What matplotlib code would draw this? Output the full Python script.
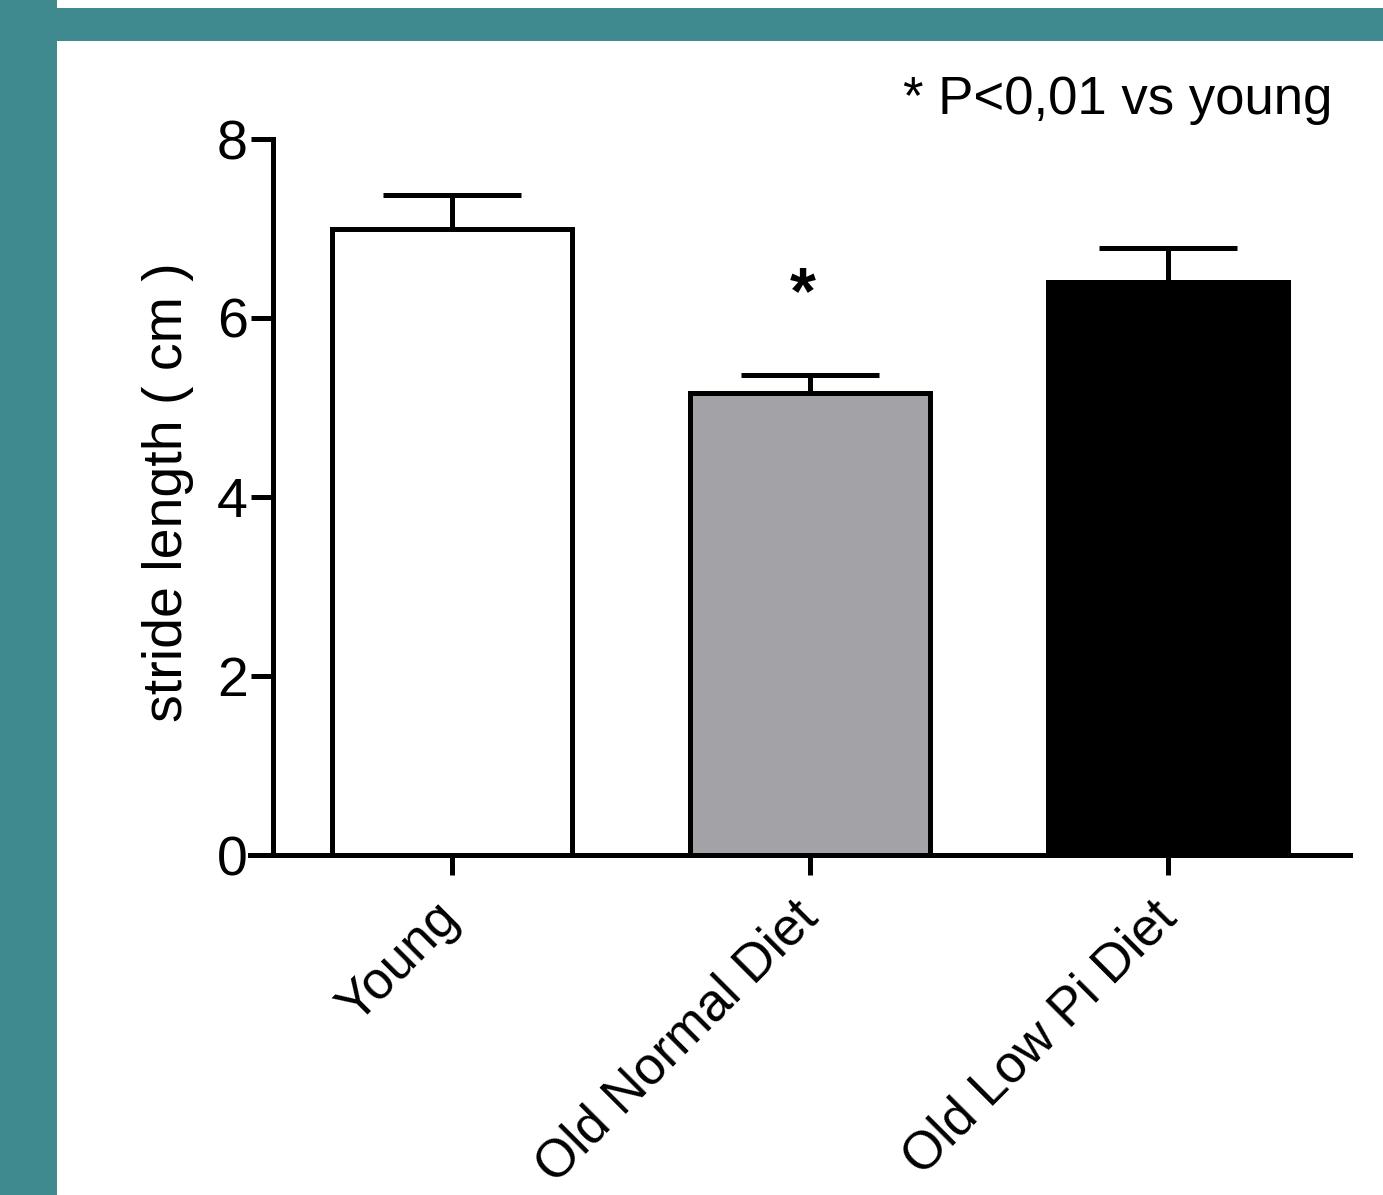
import matplotlib
matplotlib.use("Agg")
import matplotlib.pyplot as plt
from matplotlib.patches import Rectangle

plt.rcParams['font.family'] = ['Liberation Sans', 'DejaVu Sans']

categories = ["Young", "Old Normal Diet", "Old Low Pi Diet"]
means = [7.0, 5.16, 6.40]
sem = [0.37, 0.20, 0.38]
bar_colors = ["#ffffff", "#a3a2a7", "#000000"]
yticks = [0, 2, 4, 6, 8]
ylabel = "stride length ( cm )"
note = "* P<0,01 vs young"
sig_marks = ["", "*", ""]

W, H = 1383, 1195
DPI = 100
fig = plt.figure(figsize=(W / DPI, H / DPI), dpi=DPI)
fig.patch.set_facecolor("white")

teal = "#3e8a8f"
fig.patches.append(Rectangle((0, 0), 57 / W, 1, transform=fig.transFigure,
                             facecolor=teal, edgecolor="none", zorder=0))
fig.patches.append(Rectangle((57 / W, 1 - 41 / H), 1 - 57 / W, 33 / H,
                             transform=fig.transFigure, facecolor=teal,
                             edgecolor="none", zorder=0))

ax = fig.add_axes([250 / W, (H - 855) / H, 1100 / W, 716 / H])
ax.set_facecolor("none")

lw = 3.6
x = list(range(len(categories)))
ax.errorbar(x, means, yerr=[[0] * len(sem), sem], fmt="none", ecolor="black",
            elinewidth=lw, capsize=50, capthick=lw, zorder=1)
ax.bar(x, means, width=0.67, color=bar_colors, edgecolor="black",
       linewidth=lw, zorder=2)

for xi, m, s, mark in zip(x, means, sem, sig_marks):
    if mark:
        ax.text(xi - 0.02, m + s + 0.88, mark, ha="center", va="center",
                fontsize=48, fontweight="bold", color="black")

ax.set_xlim(-0.563, 2.507)
ax.set_ylim(0, 8)
ax.spines["top"].set_visible(False)
ax.spines["right"].set_visible(False)
ax.spines["left"].set_position(("data", -0.5))
ax.spines["left"].set_bounds(0, 8)
for sp in ("left", "bottom"):
    ax.spines[sp].set_linewidth(lw)
    ax.spines[sp].set_capstyle("projecting")

ax.set_yticks(yticks)
ax.set_yticklabels([str(t) for t in yticks], fontsize=40)
ax.tick_params(axis="y", direction="out", length=15.8, width=lw, pad=2)
ax.set_xticks(x)
ax.set_xticklabels(categories, fontsize=38, rotation=45, ha="right",
                   va="center", rotation_mode="anchor")
ax.tick_params(axis="x", direction="out", length=14.4, width=lw, pad=25)

fig.text(168 / W, 1 - 492 / H, ylabel, rotation=90, ha="center", va="center",
         fontsize=40)
fig.text(903 / W, 1 - 114 / H, note, ha="left", va="baseline", fontsize=38)

fig.savefig("out.png", dpi=DPI)
